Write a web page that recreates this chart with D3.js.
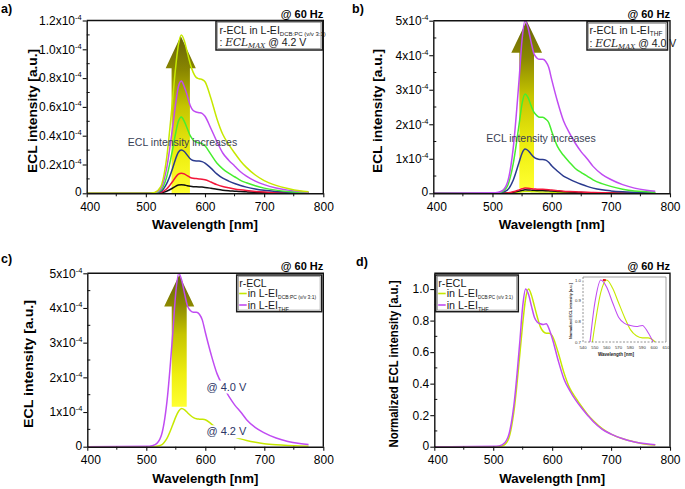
<!DOCTYPE html>
<html><head><meta charset="utf-8">
<script src="https://cdn.jsdelivr.net/npm/d3@7"></script>
<style>body{margin:0;background:#fff}svg{display:block}text{font-family:"Liberation Sans",Arial,sans-serif}</style>
</head><body>
<script>
// ---------- data ----------
const wavelength = [400,505,515,525,535,545,550,555,560,565,570,575,580,585,590,595,600,610,620,630,640,650,660,670,685,700,720,740,760,775];
// panel a: r-ECL in L-EI DCB:PC, intensity x1e-4 a.u.
const aBlack  = [0,0,0,0.003,0.014,0.035,0.048,0.057,0.06,0.058,0.053,0.049,0.046,0.045,0.044,0.043,0.041,0.035,0.028,0.022,0.018,0.015,0.012,0.01,0.007,0.005,0.003,0.002,0.001,0.001];
const aRed    = [0,0,0.001,0.006,0.03,0.08,0.11,0.133,0.14,0.135,0.122,0.11,0.104,0.102,0.10,0.098,0.094,0.078,0.06,0.047,0.038,0.03,0.024,0.019,0.013,0.009,0.006,0.004,0.002,0.001];
const aBlue   = [0,0,0.002,0.012,0.065,0.17,0.235,0.285,0.30,0.29,0.265,0.24,0.228,0.225,0.225,0.22,0.21,0.175,0.135,0.105,0.085,0.068,0.054,0.043,0.03,0.021,0.013,0.008,0.004,0.003];
const aGreen  = [0,0,0.003,0.02,0.11,0.30,0.41,0.50,0.53,0.50,0.45,0.40,0.37,0.355,0.35,0.345,0.33,0.27,0.21,0.17,0.14,0.115,0.09,0.073,0.052,0.036,0.022,0.013,0.007,0.005];
const aMagenta= [0,0,0.004,0.03,0.17,0.45,0.61,0.74,0.78,0.74,0.68,0.61,0.575,0.565,0.56,0.555,0.535,0.45,0.36,0.28,0.23,0.19,0.15,0.12,0.085,0.06,0.037,0.022,0.012,0.008];
const aYellow = [0,0,0.006,0.044,0.24,0.64,0.86,1.03,1.10,1.06,0.98,0.90,0.84,0.805,0.795,0.79,0.775,0.66,0.52,0.41,0.34,0.28,0.225,0.18,0.127,0.088,0.055,0.033,0.017,0.011];
// panel b: r-ECL in L-EI THF, intensity x1e-4 a.u.
const bYellow = [0,0,0,0.003,0.015,0.035,0.045,0.05,0.05,0.048,0.045,0.042,0.04,0.04,0.039,0.037,0.034,0.028,0.022,0.018,0.015,0.012,0.01,0.008,0.006,0.004,0.003,0.002,0.001,0.001];
const bBlack  = [0,0,0.001,0.006,0.03,0.065,0.085,0.1,0.098,0.092,0.085,0.08,0.078,0.078,0.076,0.072,0.066,0.054,0.043,0.035,0.029,0.024,0.019,0.015,0.011,0.008,0.005,0.003,0.002,0.001];
const bRed    = [0,0,0.002,0.01,0.045,0.1,0.13,0.15,0.145,0.135,0.125,0.12,0.115,0.115,0.112,0.105,0.095,0.077,0.06,0.05,0.042,0.035,0.028,0.022,0.016,0.011,0.007,0.004,0.002,0.001];
const bBlue   = [0,0.005,0.02,0.09,0.38,0.9,1.16,1.28,1.24,1.14,1.05,1.0,0.98,0.98,0.96,0.9,0.8,0.64,0.5,0.41,0.33,0.26,0.2,0.15,0.1,0.07,0.045,0.03,0.018,0.012];
const bGreen  = [0,0.01,0.04,0.2,0.85,2.0,2.6,2.88,2.78,2.55,2.35,2.25,2.2,2.2,2.15,2.05,1.8,1.35,1.1,0.9,0.72,0.6,0.5,0.39,0.28,0.2,0.12,0.07,0.045,0.03];
const bMagenta= [0,0.015,0.06,0.3,1.3,3.3,4.45,5.0,4.8,4.4,4.05,3.92,3.88,3.88,3.82,3.65,3.3,2.65,2.1,1.75,1.45,1.2,1.0,0.78,0.55,0.4,0.25,0.15,0.09,0.06];
// panel d: normalized
const dDCB = [0,0,0.005,0.04,0.22,0.58,0.78,0.94,1.0,0.96,0.89,0.82,0.76,0.73,0.72,0.72,0.705,0.60,0.47,0.37,0.31,0.255,0.205,0.165,0.115,0.08,0.05,0.03,0.015,0.01];
const dTHF = [0,0.003,0.012,0.06,0.26,0.66,0.89,1.0,0.965,0.89,0.82,0.79,0.78,0.775,0.78,0.745,0.69,0.55,0.43,0.355,0.295,0.245,0.2,0.158,0.11,0.08,0.05,0.03,0.018,0.012];
// ticks
const xTicks = [400,500,600,700,800];
const xMinor = [450,550,650,750];
const yTicksA = [0,0.2,0.4,0.6,0.8,1.0,1.2];
const yMinorA = [0.1,0.3,0.5,0.7,0.9,1.1];
const yTicksB = [0,1,2,3,4,5];
const yMinorB = [0.5,1.5,2.5,3.5,4.5];
const yTicksD = [0,0.2,0.4,0.6,0.8,1.0];
const yMinorD = [0.1,0.3,0.5,0.7,0.9];
const insetXTicks = [540,550,560,570,580,590,600,610];
const insetYTicks = [0.7,0.8,0.9,1.0];
const insetMarker = [558,1.0];

const C = {black:"#111111", red:"#f2163a", blue:"#2a3a8e", green:"#46ee2e", magenta:"#c04cf2", yellow:"#c6e800"};

// ---------- drawing ----------
const svg = d3.select("body").append("svg").attr("width",685).attr("height",489);
const defs = svg.append("defs");
const grad = defs.append("linearGradient").attr("id","arrowGrad").attr("x1",0).attr("y1",0).attr("x2",0).attr("y2",1);
[[0,"#66620a"],[0.22,"#8a8700"],[0.45,"#c6c500"],[0.75,"#eeee10"],[1,"#ffff30"]].forEach(s=>grad.append("stop").attr("offset",s[0]).attr("stop-color",s[1]));

function supLabel(sel, base){
  sel.text(null);
  sel.append("tspan").text(base);
  sel.append("tspan").attr("dy",-5).attr("font-size",7.5).text("-4");
}

function panel(o){
  const x = d3.scaleLinear().domain([400,800]).range([o.l,o.r]);
  const y = d3.scaleLinear().domain([0,o.ymax]).range([o.b,o.t]);
  const g = svg.append("g");
  defs.append("clipPath").attr("id","clip"+o.id).append("rect")
    .attr("x",o.l).attr("y",o.t).attr("width",o.r-o.l).attr("height",o.b-o.t);
  const plot = g.append("g").attr("clip-path",`url(#clip${o.id})`);
  if(o.arrow){
    const a=o.arrow, xc=x(a.wl);
    const hs=(x(a.wl+a.shaft)-x(a.wl-a.shaft))/2, hh=(x(a.wl+a.head)-x(a.wl-a.head))/2;
    const p=d3.path();
    p.moveTo(xc-hs,y(a.y0)); p.lineTo(xc-hs,y(a.yBase)); p.lineTo(xc-hh,y(a.yBase));
    p.lineTo(xc,y(a.yTip)); p.lineTo(xc+hh,y(a.yBase)); p.lineTo(xc+hs,y(a.yBase));
    p.lineTo(xc+hs,y(a.y0)); p.closePath();
    plot.append("path").attr("d",p.toString()).attr("fill","url(#arrowGrad)");
  }
  const line=d3.line().x((d,i)=>x(wavelength[i])).y(d=>y(d)).curve(d3.curveMonotoneX);
  o.series.forEach(s=>plot.append("path").attr("d",line(s.v)).attr("fill","none")
    .attr("stroke",s.c).attr("stroke-width",1.5).attr("stroke-linejoin","round"));
  // minor ticks
  g.selectAll(null).data(o.yMinor).enter().append("line")
    .attr("x1",o.l).attr("x2",o.l+3).attr("y1",d=>y(d)).attr("y2",d=>y(d)).attr("stroke","#111").attr("stroke-width",1);
  g.selectAll(null).data(xMinor).enter().append("line")
    .attr("x1",d=>x(d)).attr("x2",d=>x(d)).attr("y1",o.b).attr("y2",o.b+3).attr("stroke","#111").attr("stroke-width",1);
  // axes
  const ax=g.append("g").attr("transform",`translate(0,${o.b})`)
    .call(d3.axisBottom(x).tickValues(xTicks).tickSize(4).tickSizeOuter(0).tickPadding(5).tickFormat(d3.format("d")));
  const ay=g.append("g").attr("transform",`translate(${o.l},0)`)
    .call(d3.axisLeft(y).tickValues(o.yTicks).tickSize(4).tickSizeOuter(0).tickPadding(1));
  [ax,ay].forEach(a=>{
    a.select(".domain").attr("stroke","#111").attr("stroke-width",1.4);
    a.selectAll(".tick line").attr("stroke","#111").attr("stroke-width",1.1);
    a.selectAll(".tick text").attr("font-size",12).attr("fill","#000").attr("font-family","'Liberation Sans',Arial,sans-serif");
  });
  ax.selectAll(".tick text").filter(d=>d===400).attr("dx",3);
  ay.selectAll(".tick text").each(function(d){ o.yFmt(d3.select(this),d); });
  ay.selectAll(".tick text").filter(d=>d===0).attr("dy","0.2em");
  // frame top/right
  g.append("path").attr("d",`M${o.l},${o.t}H${o.r}V${o.b}`).attr("fill","none").attr("stroke","#111").attr("stroke-width",1.4);
  // titles
  g.append("text").attr("x",(o.l+o.r)/2).attr("y",o.b+36).attr("text-anchor","middle")
    .attr("font-size",13).attr("font-weight","bold").attr("textLength",106).attr("lengthAdjust","spacingAndGlyphs").text("Wavelength [nm]");
  g.append("text").attr("transform",`translate(${o.yTitleX},${(o.t+o.b)/2+4}) rotate(-90)`).attr("text-anchor","middle")
    .attr("font-size",13).attr("font-weight","bold").attr("textLength",o.yTitleLen).attr("lengthAdjust","spacingAndGlyphs").text(o.yTitle);
  g.append("text").attr("x",o.r).attr("y",o.t-3).attr("text-anchor","end").attr("font-size",11).attr("font-weight","bold").text("@ 60 Hz");
  g.append("text").attr("x",o.labX).attr("y",o.labY).attr("font-size",12.5).attr("font-weight","bold").text(o.label);
  return {x,y,g};
}

const fmtA=(s,d)=>{ if(d===0) s.text("0"); else supLabel(s,d.toFixed(1)+"x10"); };
const fmtB=(s,d)=>{ if(d===0) s.text("0"); else supLabel(s,d+"x10"); };
const fmtD=(s,d)=>{ s.text(d===0?"0":d.toFixed(1)); };

function box(x0,y0,w,h){
  svg.append("rect").attr("x",x0).attr("y",y0).attr("width",w).attr("height",h).attr("fill","#fff").attr("stroke","#1a1a1a").attr("stroke-width",1.5);
  svg.append("rect").attr("x",x0+1.6).attr("y",y0+1.6).attr("width",w-3.2).attr("height",h-3.2).attr("fill","none").attr("stroke","#777").attr("stroke-width",0.6);
}
function ecLine(x0,y0,volt){
  const t=svg.append("text").attr("x",x0).attr("y",y0).attr("font-size",10.5).attr("fill","#1a1a1a");
  t.append("tspan").text(": ");
  t.append("tspan").attr("font-family","'DejaVu Serif','Liberation Serif',serif").attr("font-style","italic").attr("font-size",10.5).text("ECL");
  t.append("tspan").attr("font-family","'DejaVu Serif','Liberation Serif',serif").attr("font-style","italic").attr("font-size",7).attr("dy",2).text("MAX");
  t.append("tspan").attr("dy",-2).text(" @ "+volt);
}

// panel a
const pa=panel({id:"a",l:86.7,r:323.3,t:20.5,b:193.3,ymax:1.2,yTicks:yTicksA,yMinor:yMinorA,yFmt:fmtA,
  yTitle:"ECL intensity [a.u.]",yTitleX:37,yTitleLen:124,label:"a)",labX:1,labY:13,
  arrow:{wl:559,shaft:15.5,head:25.5,y0:0,yBase:0.868,yTip:1.092},
  series:[{v:aBlack,c:C.black},{v:aRed,c:C.red},{v:aBlue,c:C.blue},{v:aGreen,c:C.green},{v:aMagenta,c:C.magenta},{v:aYellow,c:C.yellow}]});
pa.g.append("text").attr("x",pa.x(562)).attr("y",pa.y(0.33)).attr("text-anchor","middle").attr("font-size",10.5).attr("fill","#3a3f55").text("ECL intensity increases");

// panel b
const pb=panel({id:"b",l:433.3,r:670,t:20.7,b:193.3,ymax:5,yTicks:yTicksB,yMinor:yMinorB,yFmt:fmtB,
  yTitle:"ECL intensity [a.u.]",yTitleX:382,yTitleLen:124,label:"b)",labX:352,labY:13,
  arrow:{wl:557.8,shaft:12.4,head:26,y0:0.145,yBase:4.07,yTip:5.0},
  series:[{v:bYellow,c:C.yellow},{v:bBlack,c:C.black},{v:bRed,c:C.red},{v:bBlue,c:C.blue},{v:bGreen,c:C.green},{v:bMagenta,c:C.magenta}]});
pb.g.append("text").attr("x",pb.x(582)).attr("y",pb.y(1.48)).attr("text-anchor","middle").attr("font-size",10.5).attr("fill","#3a3f55").text("ECL intensity increases");

// panel c
const pc=panel({id:"c",l:87.3,r:323.3,t:273.3,b:446.7,ymax:5,yTicks:yTicksB,yMinor:yMinorB,yFmt:fmtB,
  yTitle:"ECL intensity [a.u.]",yTitleX:33,yTitleLen:128,label:"c)",labX:1,labY:263,
  arrow:{wl:555.8,shaft:12.7,head:25.5,y0:1.15,yBase:4.04,yTip:4.95},
  series:[{v:aYellow,c:C.yellow},{v:bMagenta,c:C.magenta}]});
[[1.62,"@ 4.0 V"],[0.33,"@ 4.2 V"]].forEach(l=>{
  const tx=pc.x(602), ty=pc.y(l[0]);
  pc.g.append("rect").attr("x",tx-2).attr("y",ty-10).attr("width",40).attr("height",13).attr("fill","#fff");
  pc.g.append("text").attr("x",tx).attr("y",ty).attr("font-size",11).attr("fill","#2c3566").text(l[1]);
});

// panel d
const pd=panel({id:"d",l:434.3,r:670,t:273.3,b:446.7,ymax:1.1,yTicks:yTicksD,yMinor:yMinorD,yFmt:fmtD,
  yTitle:"Normalized ECL intensity [a.u.]",yTitleX:398,yTitleLen:167,label:"d)",labX:356,labY:266,
  series:[{v:dDCB,c:C.yellow},{v:dTHF,c:C.magenta}]});

// legends
box(216,21,106.5,29);
{ const t=svg.append("text").attr("x",219.5).attr("y",33.5).attr("font-size",10.5).attr("fill","#1a1a1a");
  t.append("tspan").text("r-ECL in L-EI");
  t.append("tspan").attr("font-size",6).attr("dy",2).text("DCB:PC (v/v 3:1)"); }
ecLine(219.5,46,"4.2 V");

box(587,21.7,80.5,28.3);
{ const t=svg.append("text").attr("x",589.5).attr("y",34).attr("font-size",10.5).attr("fill","#1a1a1a");
  t.append("tspan").text("r-ECL in L-EI");
  t.append("tspan").attr("font-size",6.5).attr("dy",2).text("THF"); }
ecLine(589.5,46.5,"4.0 V");

function legend2(x0,y0,w,h,fs,subLen){
  box(x0,y0,w,h);
  svg.append("text").attr("x",x0+2.5).attr("y",y0+11.5).attr("font-size",fs).attr("fill","#1a1a1a").text("r-ECL");
  [[C.yellow,"DCB:PC (v/v 3:1)",y0+22,subLen],[C.magenta,"THF",y0+33.5,null]].forEach(r=>{
    svg.append("line").attr("x1",x0+2.5).attr("x2",x0+10).attr("y1",r[2]-3.5).attr("y2",r[2]-3.5).attr("stroke",r[0]).attr("stroke-width",1.6);
    const t=svg.append("text").attr("x",x0+11).attr("y",r[2]).attr("font-size",fs).attr("fill","#1a1a1a");
    t.append("tspan").text("in L-EI");
    const s=t.append("tspan").attr("font-size",5.6).attr("dy",2).text(r[1]);
    if(r[3]) s.attr("textLength",r[3]).attr("lengthAdjust","spacingAndGlyphs");
  });
}
legend2(236.7,275,85,36.7,10.5,38);
legend2(435.7,275,82.6,36.7,10.8,35);

// inset in d
{
  const ix=d3.scaleLinear().domain([540,610]).range([583,666]);
  const iy=d3.scaleLinear().domain([0.7,1.0]).range([342,280]);
  const ig=svg.append("g");
  ig.append("rect").attr("x",583).attr("y",277).attr("width",83).attr("height",65).attr("fill","#fff");
  defs.append("clipPath").attr("id","clipInset").append("rect").attr("x",583).attr("y",277).attr("width",83).attr("height",65);
  const ip=ig.append("g").attr("clip-path","url(#clipInset)");
  const il=d3.line().x((d,i)=>ix(wavelength[i])).y(d=>iy(d)).curve(d3.curveMonotoneX);
  [[dDCB,C.yellow],[dTHF,C.magenta]].forEach(s=>ip.append("path").attr("d",il(s[0])).attr("fill","none").attr("stroke",s[1]).attr("stroke-width",1.1));
  ip.append("rect").attr("x",ix(insetMarker[0])-1.5).attr("y",iy(insetMarker[1])-1).attr("width",3).attr("height",2).attr("fill","#e8202a");
  ig.append("path").attr("d","M583,277H666V342").attr("fill","none").attr("stroke","#888").attr("stroke-width",0.8);
  ig.append("path").attr("d","M583,277V342H666").attr("fill","none").attr("stroke","#777").attr("stroke-width",0.8).attr("stroke-dasharray","2,1.5");
  ig.selectAll(null).data(insetXTicks).enter().append("text").attr("x",d=>ix(d)).attr("y",349)
    .attr("text-anchor","middle").attr("font-size",4.3).attr("fill","#333").text(d=>d);
  ig.selectAll(null).data(insetYTicks).enter().append("text").attr("x",581).attr("y",d=>iy(d)+1.5)
    .attr("text-anchor","end").attr("font-size",4.3).attr("fill","#333").text(d=>d.toFixed(1));
  ig.append("text").attr("x",616).attr("y",356).attr("text-anchor","middle").attr("font-size",4.5).attr("font-weight","bold").attr("fill","#222").text("Wavelength [nm]");
  ig.append("text").attr("transform","translate(572,311) rotate(-90)").attr("text-anchor","middle").attr("font-size",3.8).attr("font-weight","bold").attr("fill","#222").text("Normalized ECL intensity [a.u.]");
}
</script>
</body></html>
